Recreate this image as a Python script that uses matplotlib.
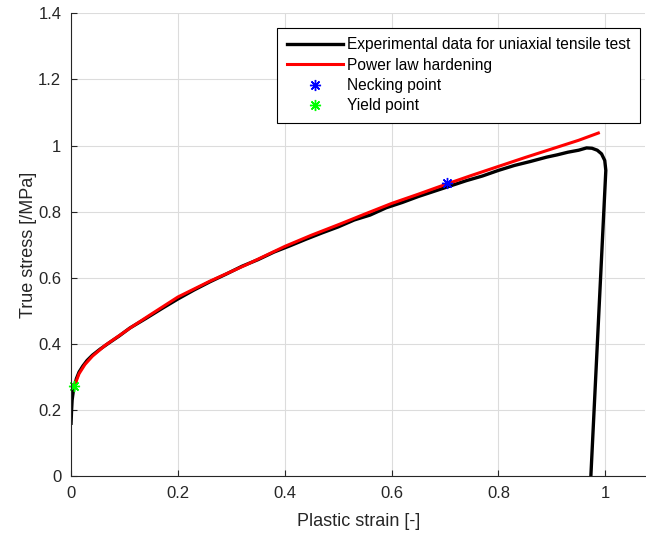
import matplotlib
matplotlib.use('Agg')
import matplotlib.pyplot as plt
from matplotlib.ticker import FormatStrFormatter

plt.rcParams['font.family'] = ['Liberation Sans', 'DejaVu Sans']

# experimental tensile curve
exp_strain = [0.0, 0.001, 0.002, 0.004, 0.006, 0.01, 0.015, 0.022, 0.03, 0.04,
              0.055, 0.07, 0.09, 0.11, 0.14, 0.17, 0.2, 0.23, 0.26, 0.29,
              0.32, 0.35, 0.38, 0.41, 0.44, 0.47, 0.5, 0.53, 0.56, 0.59,
              0.62, 0.65, 0.68, 0.71, 0.74, 0.77, 0.8, 0.83, 0.86, 0.89,
              0.91, 0.93, 0.95, 0.965, 0.975, 0.985, 0.993, 0.999, 1.001, 0.973]
exp_stress = [0.16, 0.2, 0.23, 0.255, 0.27, 0.295, 0.315, 0.333, 0.35, 0.366,
              0.385, 0.402, 0.424, 0.448, 0.477, 0.507, 0.536, 0.563, 0.588, 0.611,
              0.635, 0.655, 0.678, 0.697, 0.717, 0.736, 0.754, 0.775, 0.79, 0.812,
              0.828, 0.846, 0.862, 0.878, 0.894, 0.908, 0.925, 0.94, 0.952, 0.965,
              0.972, 0.98, 0.986, 0.993, 0.992, 0.986, 0.975, 0.955, 0.925, 0.0]

# power law hardening fit
fit_strain = [0.006, 0.015, 0.026, 0.04, 0.064, 0.09, 0.114, 0.15, 0.2, 0.26,
              0.326, 0.4, 0.45, 0.504, 0.55, 0.6, 0.65, 0.7, 0.75, 0.8,
              0.85, 0.9, 0.95, 0.987]
fit_stress = [0.272, 0.31, 0.338, 0.363, 0.396, 0.425, 0.452, 0.49, 0.542, 0.59,
              0.638, 0.695, 0.729, 0.763, 0.793, 0.825, 0.853, 0.882, 0.91, 0.937,
              0.964, 0.99, 1.016, 1.038]

necking = (0.704, 0.887)
yield_pt = (0.005, 0.272)

fig = plt.figure(figsize=(6.46, 5.35), dpi=100)
ax = fig.add_axes([0.110, 0.110, 0.889, 0.865])

ax.plot(exp_strain, exp_stress, color='black', lw=2.4,
        label='Experimental data for uniaxial tensile test')
ax.plot(fit_strain, fit_stress, color='red', lw=2.2, label='Power law hardening')
ax.plot([necking[0]], [necking[1]], ls='none', marker=(8, 2, 0), ms=8, mew=1,
        color='blue', label='Necking point')
ax.plot([yield_pt[0]], [yield_pt[1]], ls='none', marker=(8, 2, 0), ms=8, mew=1,
        color='#00ff00', label='Yield point', clip_on=False)

ax.set_xlim(0, 1.075)
ax.set_ylim(0, 1.4)
ax.set_xticks([0, 0.2, 0.4, 0.6, 0.8, 1.0])
ax.set_yticks([0, 0.2, 0.4, 0.6, 0.8, 1.0, 1.2, 1.4])
ax.xaxis.set_major_formatter(FormatStrFormatter('%g'))
ax.yaxis.set_major_formatter(FormatStrFormatter('%g'))
ax.tick_params(direction='in', length=4, width=0.8, colors='#262626',
               labelsize=12, pad=7)
ax.grid(True, color='#dcdcdc', lw=0.8)
ax.set_axisbelow(True)
for side in ['top', 'right']:
    ax.spines[side].set_visible(False)
for side in ['left', 'bottom']:
    ax.spines[side].set_color('#262626')
    ax.spines[side].set_linewidth(0.8)

ax.set_xlabel('Plastic strain [-]', fontsize=13, color='#262626', labelpad=9)
ax.set_ylabel('True stress [/MPa]', fontsize=13, color='#262626', labelpad=1)

leg = ax.legend(loc='upper right', bbox_to_anchor=(0.991, 0.948),
                bbox_transform=fig.transFigure, fontsize=11.2, frameon=True,
                fancybox=False, handlelength=3.6, handletextpad=0.3,
                borderpad=0.6, labelspacing=0.35, borderaxespad=0)
leg.get_frame().set_edgecolor('black')
leg.get_frame().set_linewidth(0.8)
leg.get_frame().set_alpha(1)

fig.savefig('out.png', dpi=100)
